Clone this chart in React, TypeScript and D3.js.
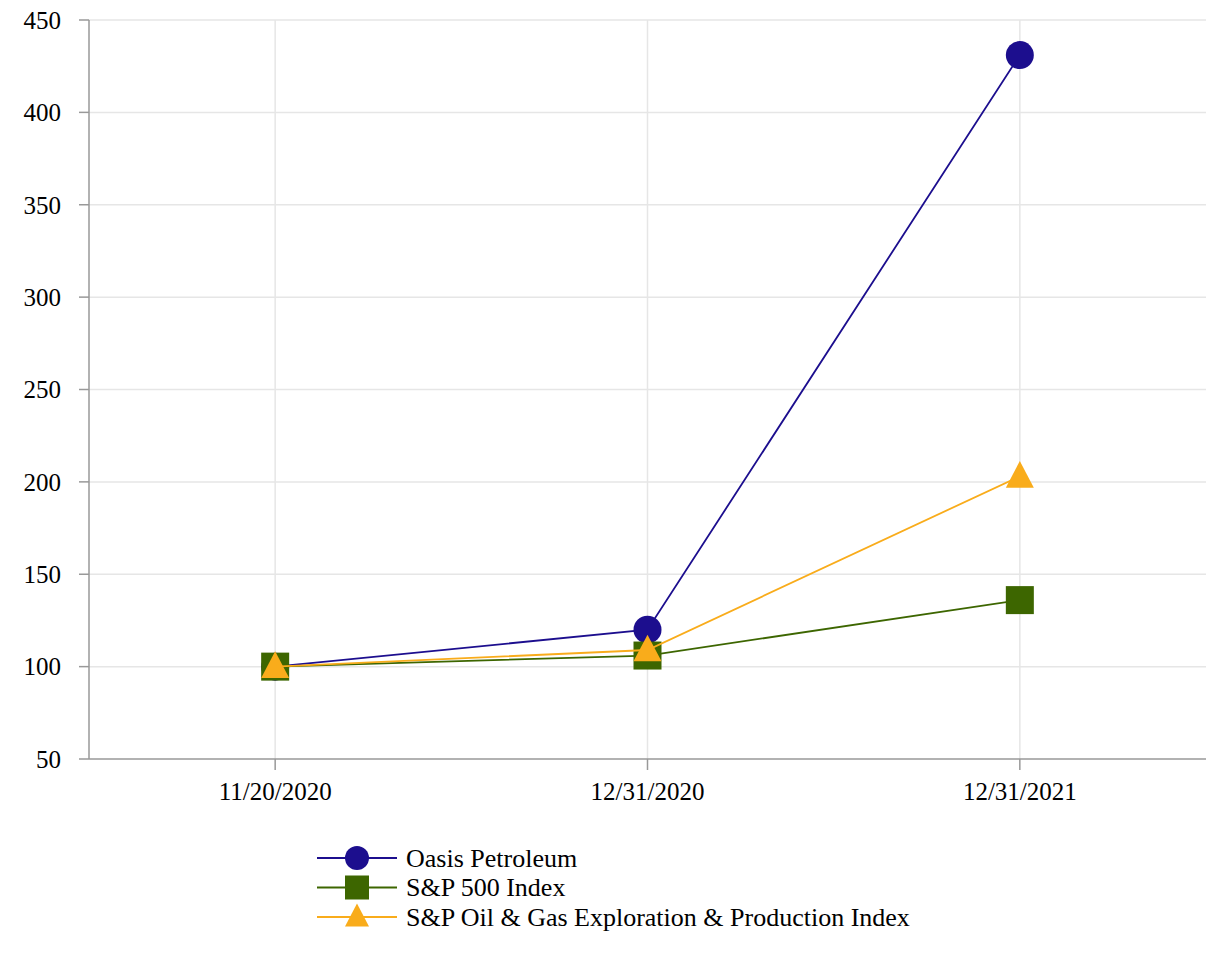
import React from "react";
import * as d3 from "d3";

const categories = ["11/20/2020", "12/31/2020", "12/31/2021"];
const oasis = [100, 120, 431];
const sp500 = [100, 106, 136];
const oilGas = [100, 109, 203];
const yTicks = [50, 100, 150, 200, 250, 300, 350, 400, 450];

const seriesNames = ["Oasis Petroleum", "S&P 500 Index", "S&P Oil & Gas Exploration & Production Index"];
const seriesColors = ["#1c0e8e", "#3d6600", "#f9ac1b"];
const seriesShapes = ["circle", "square", "triangle"];
const seriesValues = [oasis, sp500, oilGas];

const FONT = "Liberation Serif, Times New Roman, serif";

function Marker({ shape, cx, cy, size, color }: { shape: string; cx: number; cy: number; size: number; color: string }) {
  if (shape === "circle") return <circle cx={cx} cy={cy} r={size / 2} fill={color} />;
  if (shape === "square") return <rect x={cx - size / 2} y={cy - size / 2} width={size} height={size} fill={color} />;
  const h = size * 0.95;
  const p = `M${cx},${cy - h / 2 - 2}L${cx + size / 2},${cy + h / 2 - 2}L${cx - size / 2},${cy + h / 2 - 2}Z`;
  return <path d={p} fill={color} />;
}

export default function App() {
  document.body.style.margin = "0";
  const W = 1226, H = 960;
  const left = 89, right = 1206, top = 20, bottom = 759;
  const x = d3.scalePoint<string>().domain(categories).range([left, right]).padding(0.5);
  const y = d3.scaleLinear().domain([50, 450]).range([bottom, top]);
  const line = d3.line<number>().x((_, i) => x(categories[i]) as number).y((d) => y(d));
  const ts = { fontFamily: FONT };

  return (
    <svg width={W} height={H} style={{ display: "block", background: "#fff" }}>
      {yTicks.filter((t) => t > 50).map((t) => (
        <line key={"gy" + t} x1={left} x2={right} y1={y(t)} y2={y(t)} stroke="#e6e6e6" strokeWidth={1.5} />
      ))}
      {categories.map((c) => (
        <line key={"gx" + c} x1={x(c)} x2={x(c)} y1={top} y2={bottom} stroke="#e6e6e6" strokeWidth={1.5} />
      ))}
      <line x1={left} x2={left} y1={top} y2={bottom} stroke="#999" strokeWidth={1.5} />
      <line x1={left} x2={right} y1={bottom} y2={bottom} stroke="#999" strokeWidth={1.5} />
      {yTicks.map((t) => (
        <g key={"ty" + t}>
          <line x1={left - 10} x2={left} y1={y(t)} y2={y(t)} stroke="#999" strokeWidth={1.5} />
          <text x={61} y={y(t)} dy="0.35em" textAnchor="end" fontSize={25} fill="#000" style={ts}>{t}</text>
        </g>
      ))}
      {categories.map((c) => (
        <g key={"tx" + c}>
          <line x1={x(c)} x2={x(c)} y1={bottom} y2={bottom + 11} stroke="#999" strokeWidth={1.5} />
          <text x={x(c)} y={800} textAnchor="middle" fontSize={25} fill="#000" style={ts}>{c}</text>
        </g>
      ))}
      {seriesValues.map((vals, si) => (
        <g key={"s" + si}>
          <path d={line(vals) || ""} fill="none" stroke={seriesColors[si]} strokeWidth={1.8} />
          {vals.map((v, i) => (
            <Marker key={i} shape={seriesShapes[si]} cx={x(categories[i]) as number} cy={y(v)} size={28} color={seriesColors[si]} />
          ))}
        </g>
      ))}
      {seriesNames.map((n, i) => {
        const ly = 858 + i * 29.5;
        return (
          <g key={"l" + i}>
            <line x1={317} x2={397} y1={ly} y2={ly} stroke={seriesColors[i]} strokeWidth={1.8} />
            <Marker shape={seriesShapes[i]} cx={357} cy={ly} size={24} color={seriesColors[i]} />
            <text x={406} y={ly} dy="0.33em" fontSize={26} fill="#000" style={ts}>{n}</text>
          </g>
        );
      })}
    </svg>
  );
}
